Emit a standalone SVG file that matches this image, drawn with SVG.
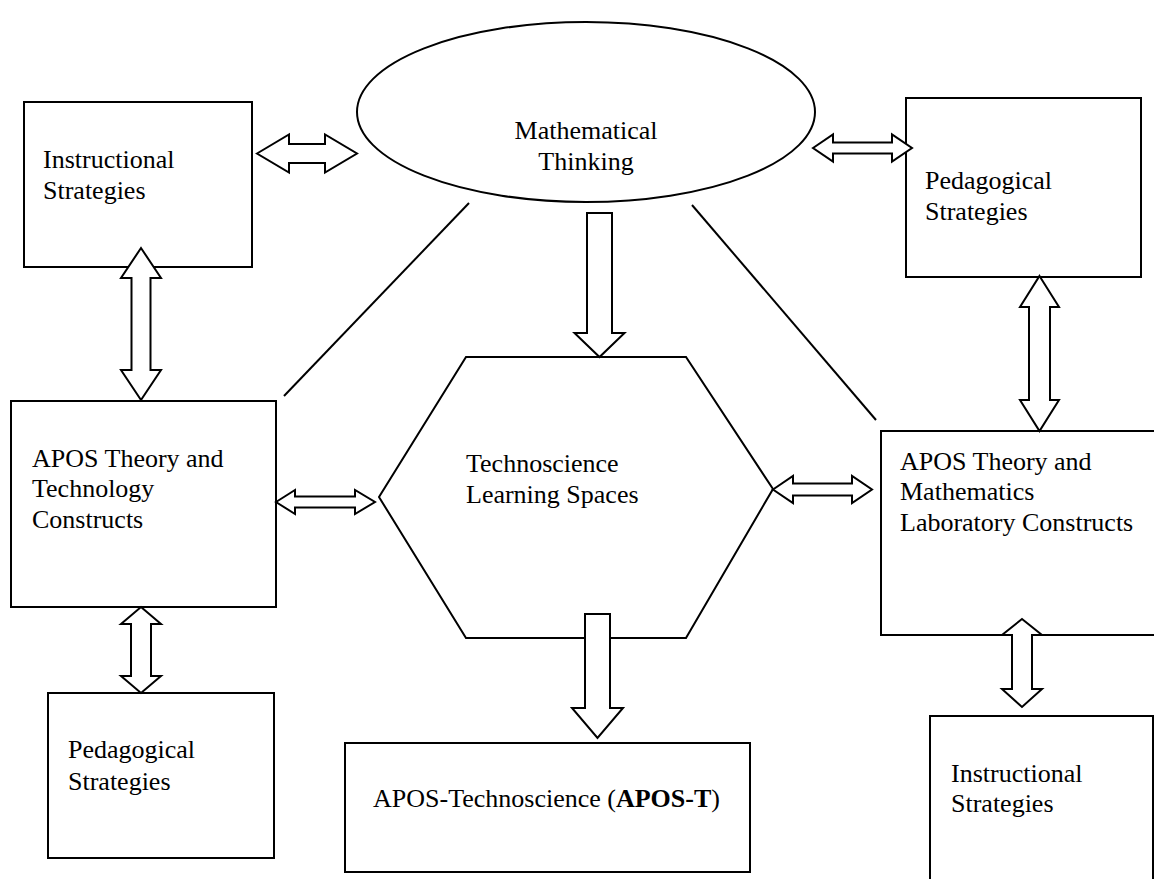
<svg xmlns="http://www.w3.org/2000/svg" width="1154" height="879" viewBox="0 0 1154 879">
<style>
.box{fill:#fff;stroke:#000;stroke-width:2}
.arr{fill:#fff;stroke:#000;stroke-width:2;stroke-linejoin:miter}
.ln{stroke:#000;stroke-width:2;fill:none}
text{font-family:"Liberation Serif","Times New Roman",serif;font-size:26px;fill:#000}
</style>
<rect width="1154" height="879" fill="#fff"/>
<g id="connectors">
<line class="ln" x1="469" y1="203" x2="284" y2="396"/>
<line class="ln" x1="692" y1="205" x2="876" y2="420"/>
</g>
<g id="instructional-top-left">
<rect class="box" x="24" y="102" width="228" height="165"/>
<text x="43" y="168">Instructional</text>
<text x="43" y="199">Strategies</text>
</g>
<g id="mathematical-thinking">
<ellipse class="box" cx="586" cy="112" rx="229" ry="90"/>
<text x="586" y="139" text-anchor="middle">Mathematical</text>
<text x="586" y="170" text-anchor="middle">Thinking</text>
</g>
<g id="pedagogical-top-right">
<rect class="box" x="906" y="98" width="235" height="179"/>
<text x="925" y="189">Pedagogical</text>
<text x="925" y="220">Strategies</text>
</g>
<g id="apos-technology">
<rect class="box" x="11" y="401" width="265" height="206"/>
<text x="32" y="467">APOS Theory and</text>
<text x="32" y="497">Technology</text>
<text x="32" y="528">Constructs</text>
</g>
<g id="technoscience">
<polygon class="box" points="466,357 686,357 773,489 686,638 466,638 379,497"/>
<text x="466" y="472">Technoscience</text>
<text x="466" y="503">Learning Spaces</text>
</g>
<g id="apos-lab">
<rect class="box" x="881" y="431" width="285" height="204"/>
<text x="900" y="470">APOS Theory and</text>
<text x="900" y="500">Mathematics</text>
<text x="900" y="531">Laboratory Constructs</text>
</g>
<g id="pedagogical-bottom-left">
<rect class="box" x="48" y="693" width="226" height="165"/>
<text x="68" y="758">Pedagogical</text>
<text x="68" y="790">Strategies</text>
</g>
<g id="apos-t">
<rect class="box" x="345" y="743" width="405" height="129"/>
<text x="373" y="807">APOS-Technoscience (<tspan font-weight="bold">APOS-T</tspan>)</text>
</g>
<g id="instructional-bottom-right">
<rect class="box" x="930" y="716" width="223" height="180"/>
<text x="951" y="782">Instructional</text>
<text x="951" y="812">Strategies</text>
</g>
<g id="arrows">
<polygon class="arr" points="257,153.5 289,134.5 289,144 325,144 325,134.5 357,153.5 325,172.5 325,163 289,163 289,172.5"/>
<polygon class="arr" points="813,148 833,134.5 833,142.5 892,142.5 892,134.5 912,148 892,161.5 892,153.5 833,153.5 833,161.5"/>
<polygon class="arr" points="587,213 612,213 612,333 624.5,333 599.5,357 574.5,333 587,333"/>
<polygon class="arr" points="141,248 161,278 150.5,278 150.5,370 161,370 141,400 121,370 131.5,370 131.5,278 121,278"/>
<polygon class="arr" points="276,502 295,490 295,496.5 355,496.5 355,490 375,502 355,514 355,507.5 295,507.5 295,514"/>
<polygon class="arr" points="773,489.5 793,476 793,483.5 852,483.5 852,476 872,489.5 852,503 852,495.5 793,495.5 793,503"/>
<polygon class="arr" points="1039.5,276 1059,307 1050,307 1050,400 1059,400 1039.5,431 1020,400 1029,400 1029,307 1020,307"/>
<polygon class="arr" points="141,607 161,624 151,624 151,676 161,676 141,693 121,676 131,676 131,624 121,624"/>
<polygon class="arr" points="585,614 610,614 610,708 623,708 597.5,738 572,708 585,708"/>
<polygon class="arr" points="1022,619 1042,635 1032,635 1032,689 1042,689 1022,707 1002,689 1012,689 1012,635 1002,635"/>
</g>
</svg>
